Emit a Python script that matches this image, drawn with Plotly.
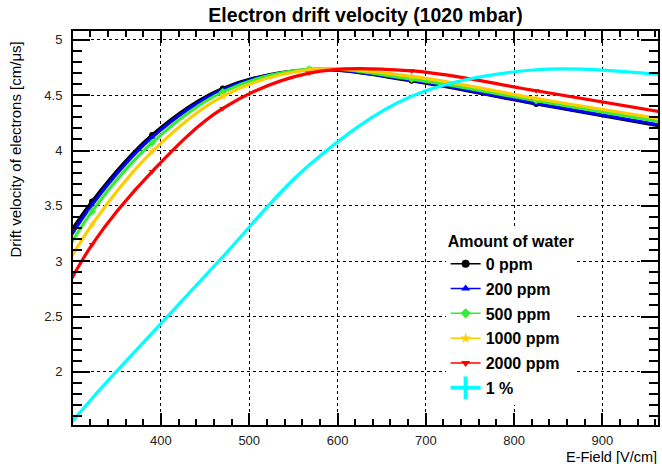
import plotly.graph_objects as go

# Drift field values (log-spaced grid) and drift velocities in cm/us
e_field = [267, 322, 390, 470, 568, 684, 825, 995]

v_0ppm = [2.88, 3.54, 4.14, 4.56, 4.73, 4.63, 4.42, 4.18]
v_200ppm = [2.82, 3.51, 4.12, 4.55, 4.73, 4.635, 4.425, 4.19]
v_500ppm = [2.73, 3.45, 4.07, 4.53, 4.735, 4.645, 4.45, 4.22]
v_1000ppm = [2.60, 3.33, 3.99, 4.49, 4.73, 4.67, 4.47, 4.25]
v_2000ppm = [2.35, 3.15, 3.81, 4.38, 4.70, 4.72, 4.54, 4.31]
v_1pct = [1.24, 1.76, 2.35, 3.04, 3.87, 4.49, 4.73, 4.66]

labels = ["0 ppm", "200 ppm", "500 ppm", "1000 ppm", "2000 ppm", "1 %"]
values = [v_0ppm, v_200ppm, v_500ppm, v_1000ppm, v_2000ppm, v_1pct]
colors = ["#000000", "#0000ff", "#33ee33", "#ffcc00", "#ff0000", "#00ffff"]
symbols = ["circle", "triangle-up", "diamond", "star", "triangle-down", None]

FONT = "Liberation Sans, Arial, sans-serif"

fig = go.Figure()

for i, (name, vals, col, sym) in enumerate(zip(labels, values, colors, symbols)):
    if sym is None:
        fig.add_trace(go.Scatter(
            x=e_field, y=vals, mode="lines",
            line=dict(color=col, width=3.2, shape="spline", smoothing=1.0),
            showlegend=False, hoverinfo="skip"))
    else:
        fig.add_trace(go.Scatter(
            x=e_field, y=vals, mode="lines+markers",
            line=dict(color=col, width=3.2, shape="spline", smoothing=1.0),
            marker=dict(color=col, symbol=sym, size=6),
            showlegend=False, hoverinfo="skip"))

# legend entries (thin line + marker, thick cross for 1 %)
for i, (name, col, sym) in enumerate(zip(labels, colors, symbols)):
    if sym is None:
        fig.add_trace(go.Scatter(
            x=[None], y=[None], mode="lines+markers", name=name,
            line=dict(color=col, width=4),
            marker=dict(symbol="line-ns", size=16, line=dict(color=col, width=4)),
            legendgroup=name))
    else:
        fig.add_trace(go.Scatter(
            x=[None], y=[None], mode="lines+markers", name=name,
            line=dict(color=col, width=1.5),
            marker=dict(symbol=sym, size=8, color=col),
            legendgroup=name))

axis_common = dict(
    showline=True, linewidth=2, linecolor="black", mirror="allticks",
    ticks="inside", tickwidth=2, tickcolor="black",
    showgrid=True, gridcolor="black", griddash="dot", gridwidth=1,
    zeroline=False,
    tickfont=dict(family=FONT, size=13, color="#222222"),
)

fig.update_xaxes(
    range=[300.4, 963], tick0=0, dtick=100, ticklen=12,
    minor=dict(dtick=20, ticklen=6, tickwidth=2, tickcolor="black", ticks="inside", showgrid=False),
    ticklabelstandoff=2,
    **axis_common)
fig.update_yaxes(
    range=[1.52, 5.08], tick0=0, dtick=0.5, ticklen=17,
    minor=dict(dtick=0.1, ticklen=9, tickwidth=2, tickcolor="black", ticks="inside", showgrid=False),
    ticklabelstandoff=6,
    **axis_common)

fig.update_layout(
    width=662, height=464,
    margin=dict(l=73, r=2, t=31, b=39),
    paper_bgcolor="white", plot_bgcolor="white",
    title=dict(text="<b>Electron drift velocity (1020 mbar)</b>",
               x=0.5, xref="paper", xanchor="center",
               y=1 - 15 / 464, yref="container", yanchor="middle",
               font=dict(family=FONT, size=19.5, color="black")),
    legend=dict(
        x=0.637, y=0.505, xanchor="left", yanchor="top",
        bgcolor="rgba(255,255,255,1)", borderwidth=0,
        font=dict(family=FONT, size=16, color="black", weight="bold"),
        title=dict(text="<b>Amount of water</b>", font=dict(family=FONT, size=16, color="black")),
        tracegroupgap=1, itemwidth=30,
    ),
    annotations=[
        dict(text="Drift velocity of electrons [cm/\u03bcs]", xref="paper", yref="paper",
             x=-0.1, y=1 - 9 / 394, xanchor="center", yanchor="top", textangle=-90,
             showarrow=False, font=dict(family=FONT, size=15, color="black")),
        dict(text="E-Field [V/cm]", xref="paper", yref="paper",
             x=1.0, y=-0.080, xanchor="right", yanchor="middle", borderpad=0,
             showarrow=False, font=dict(family=FONT, size=14.5, color="black")),
    ],
)

fig.write_html("out.html")
